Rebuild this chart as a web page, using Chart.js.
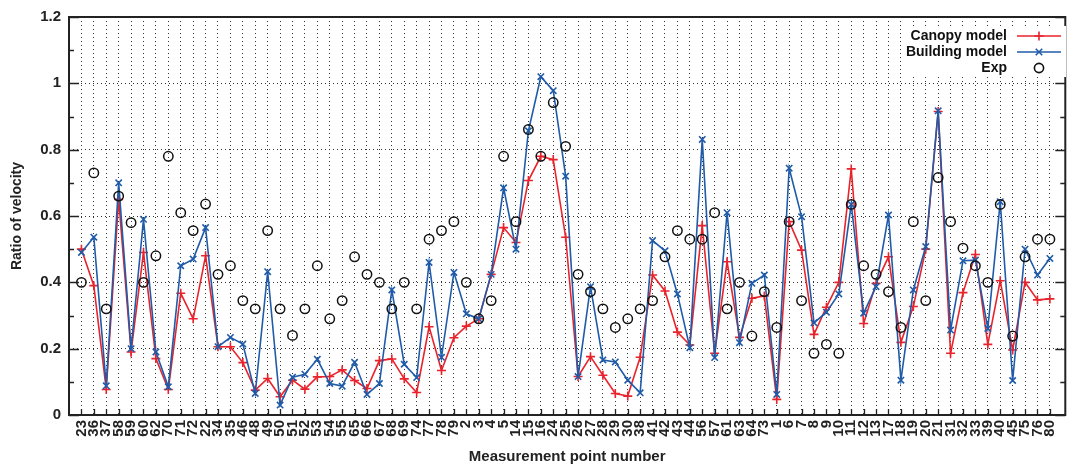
<!DOCTYPE html>
<html>
<head>
<meta charset="utf-8">
<script src="https://cdn.jsdelivr.net/npm/chart.js@4/dist/chart.umd.min.js"></script>
<style>
  html, body { margin: 0; padding: 0; background: #fff; }
  canvas { display: block; }
</style>
</head>
<body>
<canvas id="grafico" width="1073" height="466"></canvas>
<script>
// pontos de medição, na ordem do eixo x
const pontos = [23, 36, 37, 58, 59, 60, 62, 70, 71, 72, 22, 34, 35, 46, 48, 49, 50, 51, 52, 53,
    54, 55, 65, 66, 67, 68, 69, 74, 77, 78, 79, 2, 3, 4, 5, 14, 15, 16, 24, 25,
    26, 27, 28, 29, 30, 38, 41, 42, 43, 44, 56, 57, 61, 63, 64, 73, 1, 6, 7, 8,
    9, 10, 11, 12, 13, 17, 18, 19, 20, 21, 31, 32, 33, 39, 40, 45, 75, 76, 80];

const canopy = [0.50, 0.39, 0.077, 0.65, 0.19, 0.49, 0.17, 0.077, 0.367, 0.29,
    0.48, 0.206, 0.206, 0.158, 0.075, 0.11, 0.055, 0.105, 0.078, 0.115,
    0.116, 0.136, 0.104, 0.08, 0.164, 0.169, 0.109, 0.068, 0.266, 0.134,
    0.233, 0.268, 0.29, 0.424, 0.565, 0.52, 0.707, 0.78, 0.77, 0.536,
    0.116, 0.176, 0.12, 0.065, 0.057, 0.174, 0.422, 0.374, 0.25, 0.211,
    0.571, 0.186, 0.462, 0.234, 0.352, 0.359, 0.047, 0.583, 0.497, 0.243,
    0.325, 0.40, 0.742, 0.276, 0.397, 0.477, 0.219, 0.327, 0.50, 0.915,
    0.186, 0.369, 0.484, 0.213, 0.405, 0.196, 0.40, 0.347, 0.35];

const building = [0.49, 0.536, 0.088, 0.70, 0.20, 0.59, 0.19, 0.085, 0.45, 0.47,
    0.565, 0.206, 0.234, 0.214, 0.065, 0.432, 0.03, 0.114, 0.123, 0.168,
    0.095, 0.087, 0.159, 0.062, 0.095, 0.377, 0.153, 0.113, 0.46, 0.174,
    0.43, 0.305, 0.29, 0.424, 0.685, 0.50, 0.857, 1.02, 0.978, 0.72,
    0.116, 0.387, 0.166, 0.16, 0.105, 0.067, 0.526, 0.495, 0.365, 0.203,
    0.831, 0.173, 0.61, 0.218, 0.397, 0.422, 0.062, 0.744, 0.598, 0.278,
    0.31, 0.365, 0.635, 0.307, 0.387, 0.603, 0.105, 0.377, 0.508, 0.917,
    0.256, 0.465, 0.467, 0.261, 0.643, 0.104, 0.50, 0.422, 0.472];

const experimento = [0.40, 0.73, 0.32, 0.66, 0.58, 0.40, 0.48, 0.78, 0.61, 0.556,
    0.636, 0.424, 0.45, 0.345, 0.32, 0.556, 0.32, 0.24, 0.32, 0.45,
    0.29, 0.345, 0.477, 0.424, 0.40, 0.32, 0.40, 0.32, 0.53, 0.556,
    0.583, 0.40, 0.29, 0.345, 0.78, 0.583, 0.861, 0.78, 0.942, 0.81,
    0.424, 0.372, 0.32, 0.264, 0.29, 0.32, 0.345, 0.477, 0.556, 0.53,
    0.53, 0.61, 0.32, 0.40, 0.238, 0.372, 0.264, 0.583, 0.345, 0.186,
    0.213, 0.186, 0.635, 0.45, 0.424, 0.372, 0.264, 0.583, 0.345, 0.716,
    0.583, 0.503, 0.45, 0.40, 0.635, 0.238, 0.477, 0.53, 0.53];

const ticksY = [0, 0.2, 0.4, 0.6, 0.8, 1.0, 1.2];

const VERMELHO = '#e8232b';
const AZUL = '#1f5ba8';
const FONTE = '"Liberation Sans", Arial, sans-serif';

const paraPontos = (valores) => valores.map((v, i) => ({ x: i, y: v }));

// moldura e marcas internas dos eixos (estilo gnuplot)
const molduraPlugin = {
    id: 'moldura',
    afterDatasetsDraw(chart) {
        const { ctx, chartArea: a, scales } = chart;
        ctx.save();
        ctx.strokeStyle = '#222';
        ctx.lineWidth = 1.3;
        ctx.beginPath();
        // marcas no eixo y (maiores a cada 0.2, menores a cada 0.1)
        for (let k = 0; k <= 12; k++) {
            const y = Math.round(scales.y.getPixelForValue(k / 10)) + 0.5;
            const tam = k % 2 === 0 ? 10 : 5;
            ctx.moveTo(a.left, y); ctx.lineTo(a.left + tam, y);
            ctx.moveTo(a.right, y); ctx.lineTo(a.right - tam, y);
        }
        // marcas no eixo x
        pontos.forEach((_, i) => {
            const x = Math.round(scales.x.getPixelForValue(i)) + 0.5;
            ctx.moveTo(x, a.bottom); ctx.lineTo(x, a.bottom - 6);
        });
        ctx.stroke();
        ctx.lineWidth = 2;
        ctx.strokeRect(a.left, a.top, a.right - a.left, a.bottom - a.top);
        ctx.restore();
    }
};

// legenda: texto à esquerda, amostra à direita
const legendaPlugin = {
    id: 'legendaGnuplot',
    afterDraw(chart) {
        const { ctx } = chart;
        const itens = [
            { texto: 'Canopy model', cor: VERMELHO, estilo: 'cross', linha: true },
            { texto: 'Building model', cor: AZUL, estilo: 'crossRot', linha: true },
            { texto: 'Exp', cor: '#111', estilo: 'circle', linha: false }
        ];
        ctx.save();
        ctx.fillStyle = '#fff';
        ctx.fillRect(902, 26, 164, 51);
        ctx.font = 'bold 14px ' + FONTE;
        ctx.textAlign = 'right';
        ctx.textBaseline = 'middle';
        itens.forEach((it, i) => {
            const y = 36 + i * 16;
            ctx.fillStyle = '#111';
            ctx.fillText(it.texto, 1007, y);
            ctx.strokeStyle = it.cor;
            ctx.lineWidth = 1.6;
            if (it.linha) {
                ctx.beginPath(); ctx.moveTo(1017, y); ctx.lineTo(1061, y); ctx.stroke();
            }
            ctx.fillStyle = 'rgba(0,0,0,0)';
            Chart.helpers.drawPoint(ctx, {
                pointStyle: it.estilo, radius: 4.6,
                borderWidth: it.estilo === 'circle' ? 1.5 : 1.6, rotation: 0
            }, 1039, y);
        });
        ctx.restore();
    }
};

new Chart(document.getElementById('grafico'), {
    type: 'line',
    data: {
        datasets: [
            {
                label: 'Canopy model',
                data: paraPontos(canopy),
                borderColor: VERMELHO,
                backgroundColor: VERMELHO,
                borderWidth: 1.6,
                pointStyle: 'cross',
                pointRadius: 4.5,
                pointBorderWidth: 1.6,
                tension: 0,
                order: 2
            },
            {
                label: 'Building model',
                data: paraPontos(building),
                borderColor: AZUL,
                backgroundColor: AZUL,
                borderWidth: 1.6,
                pointStyle: 'crossRot',
                pointRadius: 4.5,
                pointBorderWidth: 1.6,
                tension: 0,
                order: 1
            },
            {
                label: 'Exp',
                data: paraPontos(experimento),
                showLine: false,
                borderColor: '#111',
                backgroundColor: 'rgba(0,0,0,0)',
                pointStyle: 'circle',
                pointRadius: 4.7,
                pointBorderWidth: 1.5,
                order: 0
            }
        ]
    },
    options: {
        responsive: false,
        animation: false,
        layout: { padding: { top: 17, right: 1, left: 0, bottom: 0 } },
        plugins: {
            legend: { display: false },
            tooltip: { enabled: false }
        },
        scales: {
            x: {
                type: 'linear',
                min: -1,
                max: 79.24,
                afterBuildTicks: (escala) => {
                    escala.ticks = pontos.map((_, i) => ({ value: i }));
                },
                afterFit: (escala) => { escala.height = 51; },
                ticks: {
                    autoSkip: false,
                    maxRotation: 90,
                    minRotation: 90,
                    padding: 5,
                    color: '#222',
                    font: { family: FONTE, size: 15, weight: 'bold' },
                    callback: (v) => String(pontos[v])
                },
                grid: { color: '#333', lineWidth: 1, drawTicks: false },
                border: { display: false, dash: [1, 3] },
                title: {
                    display: true,
                    text: 'Measurement point number',
                    color: '#222',
                    font: { family: FONTE, size: 15, weight: 'bold' },
                    padding: { top: 0, bottom: 0 }
                }
            },
            y: {
                min: 0,
                max: 1.2,
                afterBuildTicks: (escala) => {
                    escala.ticks = ticksY.map((v) => ({ value: v }));
                },
                afterFit: (escala) => { escala.width = 69; },
                ticks: {
                    padding: 8,
                    color: '#222',
                    font: { family: FONTE, size: 15, weight: 'bold' },
                    callback: (v) => String(+v.toFixed(1))
                },
                grid: { color: '#333', lineWidth: 1, drawTicks: false },
                border: { display: false, dash: [1, 3] },
                title: {
                    display: true,
                    text: 'Ratio of velocity',
                    color: '#222',
                    font: { family: FONTE, size: 14, weight: 'bold' },
                    padding: { top: 9, bottom: 0 }
                }
            }
        }
    },
    plugins: [molduraPlugin, legendaPlugin]
});
</script>
</body>
</html>
